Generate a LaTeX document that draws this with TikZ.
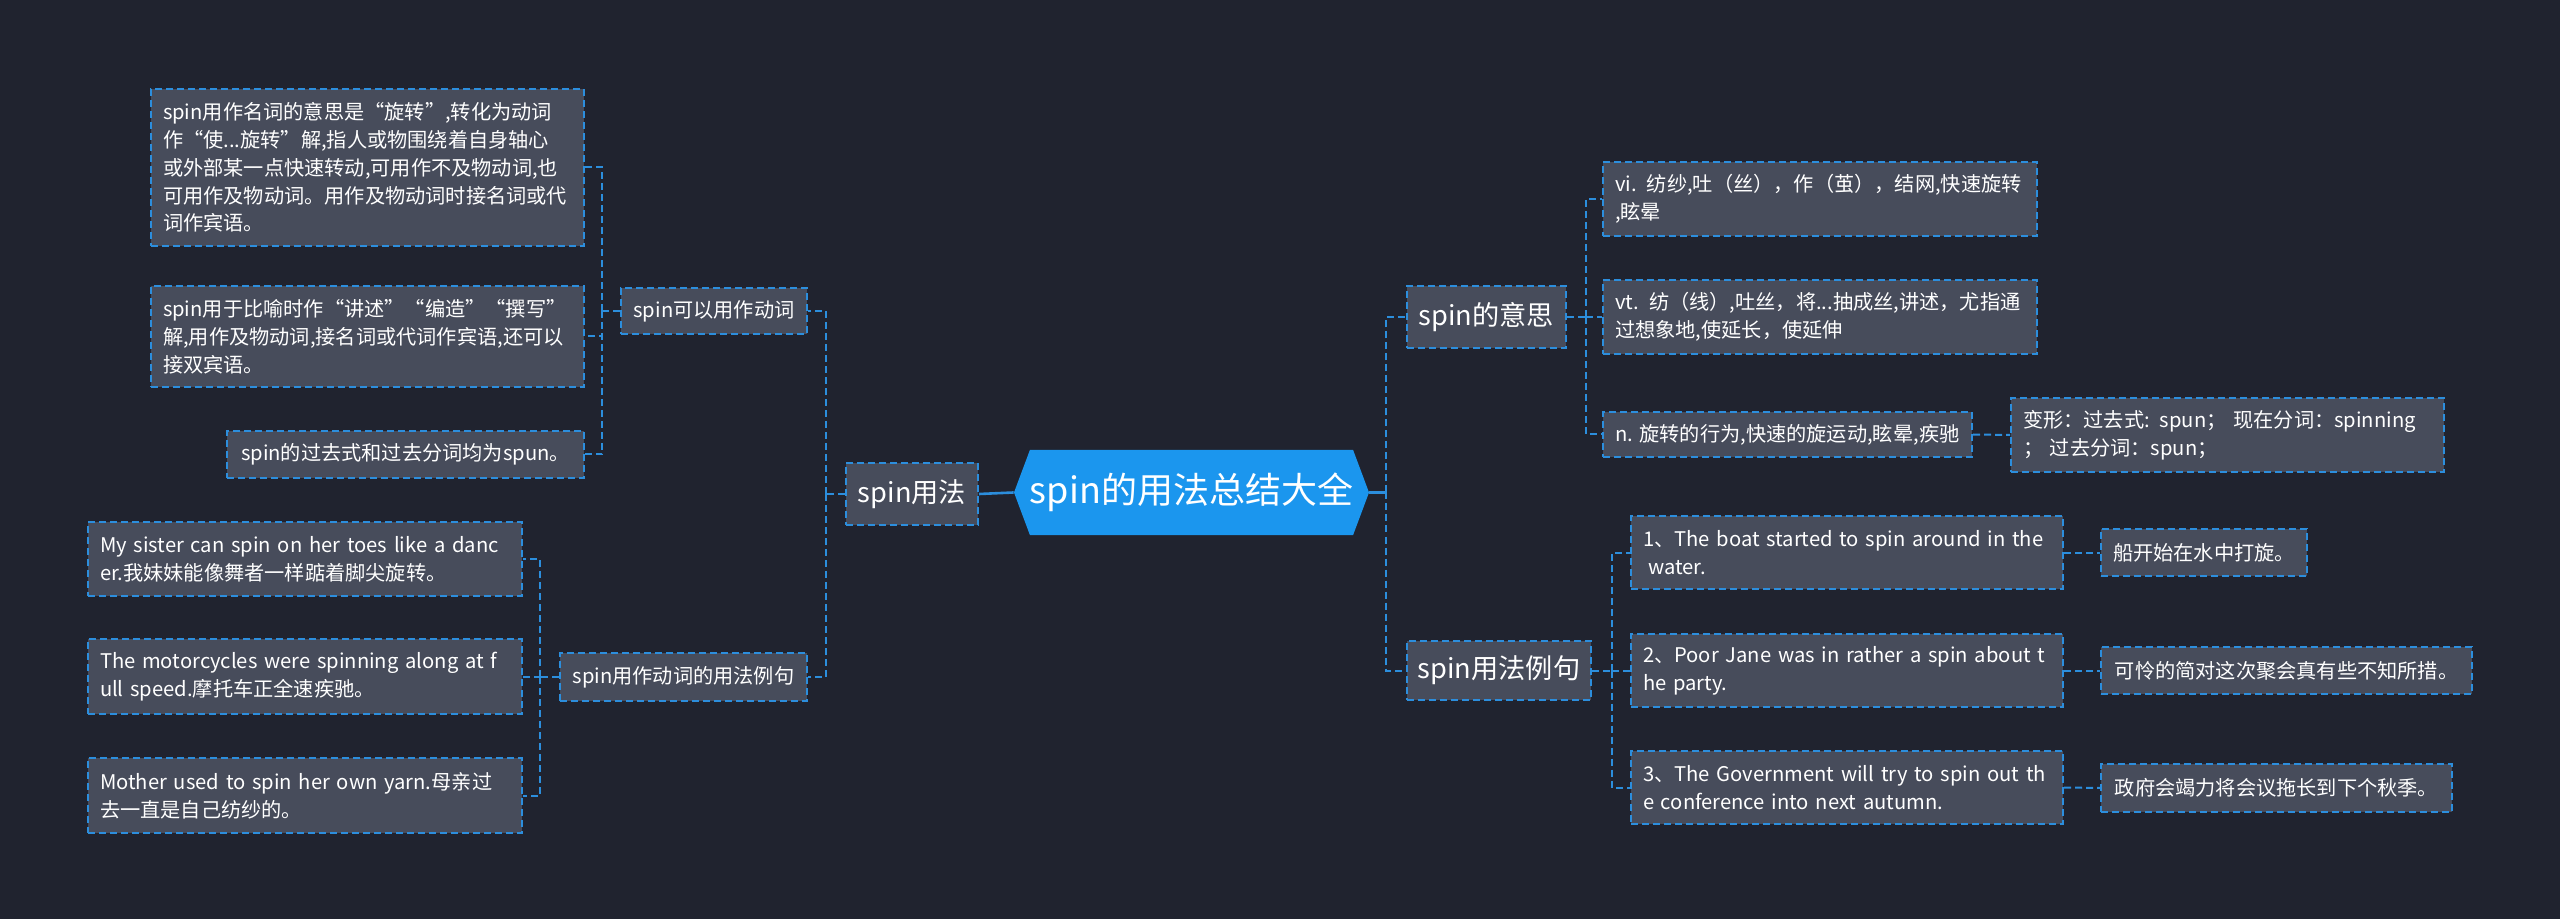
\documentclass[tikz,border=0pt]{standalone}
\usepackage{fontspec}
\setmainfont{Noto Sans CJK SC}
\usetikzlibrary{shapes.symbols}

\definecolor{bgc}{HTML}{20232F}
\definecolor{boxc}{HTML}{474C5B}
\definecolor{linec}{HTML}{2C8EDD}
\definecolor{rootc}{HTML}{1B96EE}

\begin{document}
\begin{tikzpicture}[x=0.5pt, y=-0.5pt,
    root/.style={signal, signal to=west and east, signal pointer angle=139, fill=rootc, text=white,
        font=\fontsize{18}{21}\selectfont, minimum width=177.5pt, minimum height=42.5pt, inner sep=0pt},
    topic/.style={draw=linec, dash pattern=on 3.5pt off 2pt, line width=1pt, fill=boxc, text=white,
        font=\fontsize{13.6}{16}\selectfont, anchor=north west, inner sep=0pt},
    leaf/.style={draw=linec, dash pattern=on 3.5pt off 2pt, line width=1pt, fill=boxc, text=white,
        font=\fontsize{10.1}{13.9}\selectfont, anchor=north west, inner xsep=6pt, inner ysep=0pt, align=left},
    link/.style={linec, line width=1pt, dash pattern=on 3.5pt off 2pt},
    trunk/.style={linec, line width=1.3pt}]

    \fill[bgc] (0,0) rectangle (2560,919);
    \useasboundingbox (0,0) rectangle (2560,919);

    \node[root] (root) at (1191.5,492.5) {spin的用法总结大全};

    % left half
    \node[topic, minimum width=66pt, minimum height=31pt] (usage) at (845,462) {spin用法};
    \node[leaf, minimum width=93pt, minimum height=23pt] (verb) at (620,287) {spin可以用作动词};
    \node[leaf, minimum width=123.5pt, minimum height=24pt] (verbex) at (559,652) {spin用作动词的用法例句};

    \node[leaf, text width=204.5pt, minimum height=78.5pt] (d1) at (150,88)
        {spin用作名词的意思是“旋转”,转化为动词\\作“使...旋转”解,指人或物围绕着自身轴心\\或外部某一点快速转动,可用作不及物动词,也\\可用作及物动词。用作及物动词时接名词或代\\词作宾语。};
    \node[leaf, text width=204.5pt, minimum height=50.5pt] (d2) at (150,285)
        {spin用于比喻时作“讲述”“编造”“撰写”\\解,用作及物动词,接名词或代词作宾语,还可以\\接双宾语。};
    \node[leaf, minimum width=178.5pt, minimum height=23.5pt] (d3) at (226,430) {spin的过去式和过去分词均为spun。};

    \node[leaf, text width=205pt, minimum height=37pt] (e1) at (87,521)
        {My sister can spin on her toes like a danc\\er.我妹妹能像舞者一样踮着脚尖旋转。};
    \node[leaf, text width=205pt, minimum height=37.5pt] (e2) at (87,638)
        {The motorcycles were spinning along at f\\ull speed.摩托车正全速疾驰。};
    \node[leaf, text width=205pt, minimum height=37.5pt] (e3) at (87,757)
        {Mother used to spin her own yarn.母亲过\\去一直是自己纺纱的。};

    % right half
    \node[topic, minimum width=79.5pt, minimum height=31pt] (meaning) at (1406,285) {spin的意思};
    \node[topic, minimum width=92pt, minimum height=29.5pt] (sample) at (1406,640) {spin用法例句};

    \node[leaf, text width=205pt, minimum height=37pt] (m1) at (1602,161)
        {vi. 纺纱,吐（丝），作（茧），结网,快速旋转\\,眩晕};
    \node[leaf, text width=205pt, minimum height=37pt] (m2) at (1602,279)
        {vt. 纺（线）,吐丝，将...抽成丝,讲述，尤指通\\过想象地,使延长，使延伸};
    \node[leaf, minimum width=184.5pt, minimum height=22.5pt] (m3) at (1602,411) {n. 旋转的行为,快速的旋运动,眩晕,疾驰};
    \node[leaf, text width=204.5pt, minimum height=37pt] (m3f) at (2010,397)
        {变形：过去式: spun；\ 现在分词：spinning\\；\ 过去分词：spun；};

    \node[leaf, text width=204pt, minimum height=36.5pt] (s1) at (1630,515)
        {1、The boat started to spin around in the\\\hspace*{.25em}water.};
    \node[leaf, text width=204pt, minimum height=36.5pt] (s2) at (1630,633)
        {2、Poor Jane was in rather a spin about t\\he party.};
    \node[leaf, text width=204pt, minimum height=36.5pt] (s3) at (1630,750)
        {3、The Government will try to spin out th\\e conference into next autumn.};
    \node[leaf, minimum width=103pt, minimum height=23.5pt] (t1) at (2100,528) {船开始在水中打旋。};
    \node[leaf, minimum width=185.5pt, minimum height=23.5pt] (t2) at (2100,646) {可怜的简对这次聚会真有些不知所措。};
    \node[leaf, minimum width=175.5pt, minimum height=24pt] (t3) at (2100,763) {政府会竭力将会议拖长到下个秋季。};

    % connectors
    \draw[trunk] (root.west) -- (usage.east);
    \draw[trunk] (root.east) -- ++(17,0) coordinate (rj);
    \draw[link] (rj) |- (meaning.west);
    \draw[link] (rj) |- (sample.west);

    \draw[link] (usage.west) -- ++(-19,0) coordinate (uj);
    \draw[link] (uj) |- (verb.east);
    \draw[link] (uj) |- (verbex.east);
    \draw[link] (verb.west) -- ++(-18,0) coordinate (vj);
    \draw[link] (vj) |- (d1.east);
    \draw[link] (vj) |- (d2.east);
    \draw[link] (vj) |- (d3.east);
    \draw[link] (verbex.west) -- ++(-19,0) coordinate (xj);
    \draw[link] (xj) |- (e1.east);
    \draw[link] (xj) |- (e2.east);
    \draw[link] (xj) |- (e3.east);

    \draw[link] (meaning.east) -- ++(19,0) coordinate (mj);
    \draw[link] (mj) |- (m1.west);
    \draw[link] (mj) |- (m2.west);
    \draw[link] (mj) |- (m3.west);
    \draw[link] (m3.east) -- (m3f.west);
    \draw[link] (sample.east) -- ++(20,0) coordinate (sj);
    \draw[link] (sj) |- (s1.west);
    \draw[link] (sj) |- (s2.west);
    \draw[link] (sj) |- (s3.west);
    \draw[link] (s1.east) -- (t1.west);
    \draw[link] (s2.east) -- (t2.west);
    \draw[link] (s3.east) -- (t3.west);
\end{tikzpicture}
\end{document}
